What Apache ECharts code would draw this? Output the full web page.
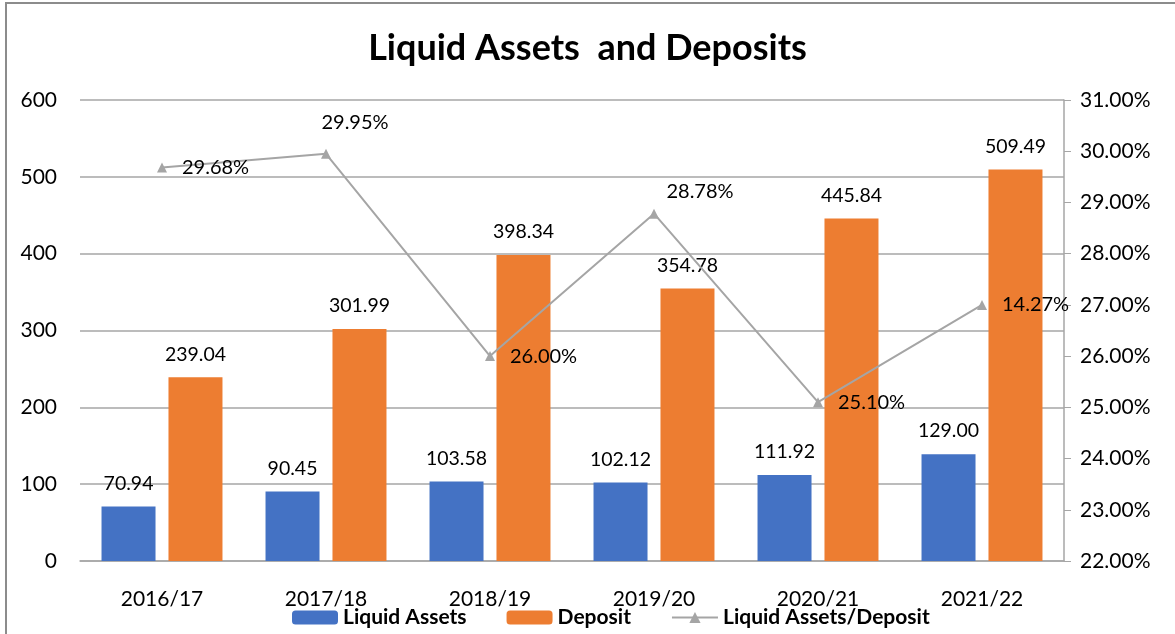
<!DOCTYPE html>
<html>
<head>
<meta charset="utf-8">
<script src="https://cdn.jsdelivr.net/npm/echarts@6/dist/echarts.min.js"></script>
<style>
  html, body { margin: 0; padding: 0; background: #fff; overflow: hidden; }
  #frame { position: absolute; left: 5px; top: 2px; width: 1200px; height: 700px; border: 2px solid #8c8c8c; }
  #main { position: absolute; left: 0; top: 0; width: 1175px; height: 634px; }
</style>
</head>
<body>
<div id="frame"></div>
<div id="main"></div>
<script>
// 数据
var years = ['2016/17', '2017/18', '2018/19', '2019/20', '2020/21', '2021/22'];
var liquidAssets = [70.94, 90.45, 103.58, 102.12, 111.92, 139.0];
// labels as printed on the original chart (last bar is drawn taller than its label)
var liquidAssetsLabels = ['70.94', '90.45', '103.58', '102.12', '111.92', '129.00'];
var deposit = [239.04, 301.99, 398.34, 354.78, 445.84, 509.49];
var ratio = [29.68, 29.95, 26.00, 28.78, 25.10, 27.00];
var ratioLabels = ['29.68%', '29.95%', '26.00%', '28.78%', '25.10%', '14.27%'];

var chart = echarts.init(document.getElementById('main'));
var font = 'Lato, "Open Sans", sans-serif';

// label placement for the ratio line (two labels sit above the point)
function ratioLabel(i) {
  if (i === 1) return { position: 'top', offset: [29, -11] };
  if (i === 3) return { position: 'top', offset: [46, -2] };
  return { position: 'right', distance: 15 };
}

var option = {
  animation: false,
  textStyle: { fontFamily: font },
  title: {
    text: 'Liquid Assets  and Deposits',
    left: 'center',
    top: 25,
    textStyle: { fontFamily: font, fontSize: 36, fontWeight: 'bold', color: '#000' }
  },
  legend: {
    left: 287,
    top: 602,
    itemWidth: 46,
    itemHeight: 14,
    itemGap: 40,
    textStyle: { fontFamily: font, fontSize: 21, fontWeight: 'bold', color: '#000' },
    data: ['Liquid Assets', 'Deposit', 'Liquid Assets/Deposit']
  },
  grid: { left: 80, right: 111, top: 100, bottom: 73 },
  xAxis: {
    type: 'category',
    data: years,
    axisTick: { show: false },
    axisLine: { show: true, lineStyle: { color: '#a6a6a6', width: 1.5 } },
    axisLabel: { fontSize: 21, color: '#000', margin: 28 }
  },
  yAxis: [
    {
      type: 'value',
      min: 0,
      max: 600,
      interval: 100,
      axisLine: { show: false },
      axisTick: { show: false },
      axisLabel: { fontSize: 21, color: '#000', margin: 23 },
      splitLine: { lineStyle: { color: '#a6a6a6', width: 1.5 } }
    },
    {
      type: 'value',
      min: 22,
      max: 31,
      interval: 1,
      position: 'right',
      axisLine: { show: true, lineStyle: { color: '#a6a6a6', width: 1.5 } },
      axisTick: { show: true, inside: false, length: 7, lineStyle: { color: '#a6a6a6' } },
      axisLabel: {
        fontSize: 21, color: '#000', margin: 16,
        formatter: function (v) { return v.toFixed(2) + '%'; }
      },
      splitLine: { show: false }
    }
  ],
  series: [
    {
      name: 'Liquid Assets',
      type: 'bar',
      barWidth: 54,
      barGap: '24%',
      itemStyle: { color: '#4472c4' },
      label: {
        show: true, position: 'top', distance: 13,
        fontSize: 19.5, color: '#000',
        formatter: function (p) { return liquidAssetsLabels[p.dataIndex]; }
      },
      data: liquidAssets
    },
    {
      name: 'Deposit',
      type: 'bar',
      barWidth: 54,
      itemStyle: { color: '#ed7d31' },
      label: {
        show: true, position: 'top', distance: 13,
        fontSize: 19.5, color: '#000',
        formatter: function (p) { return p.value.toFixed(2); }
      },
      data: deposit
    },
    {
      name: 'Liquid Assets/Deposit',
      type: 'line',
      yAxisIndex: 1,
      symbol: 'triangle',
      symbolSize: 10,
      lineStyle: { color: '#a5a5a5', width: 2 },
      itemStyle: { color: '#a5a5a5' },
      z: 5,
      data: ratio.map(function (v, i) {
        var l = ratioLabel(i);
        return {
          value: v,
          label: Object.assign({
            show: true, fontSize: 20, color: '#000',
            formatter: ratioLabels[i]
          }, l)
        };
      })
    }
  ]
};
chart.setOption(option);
</script>
</body>
</html>
